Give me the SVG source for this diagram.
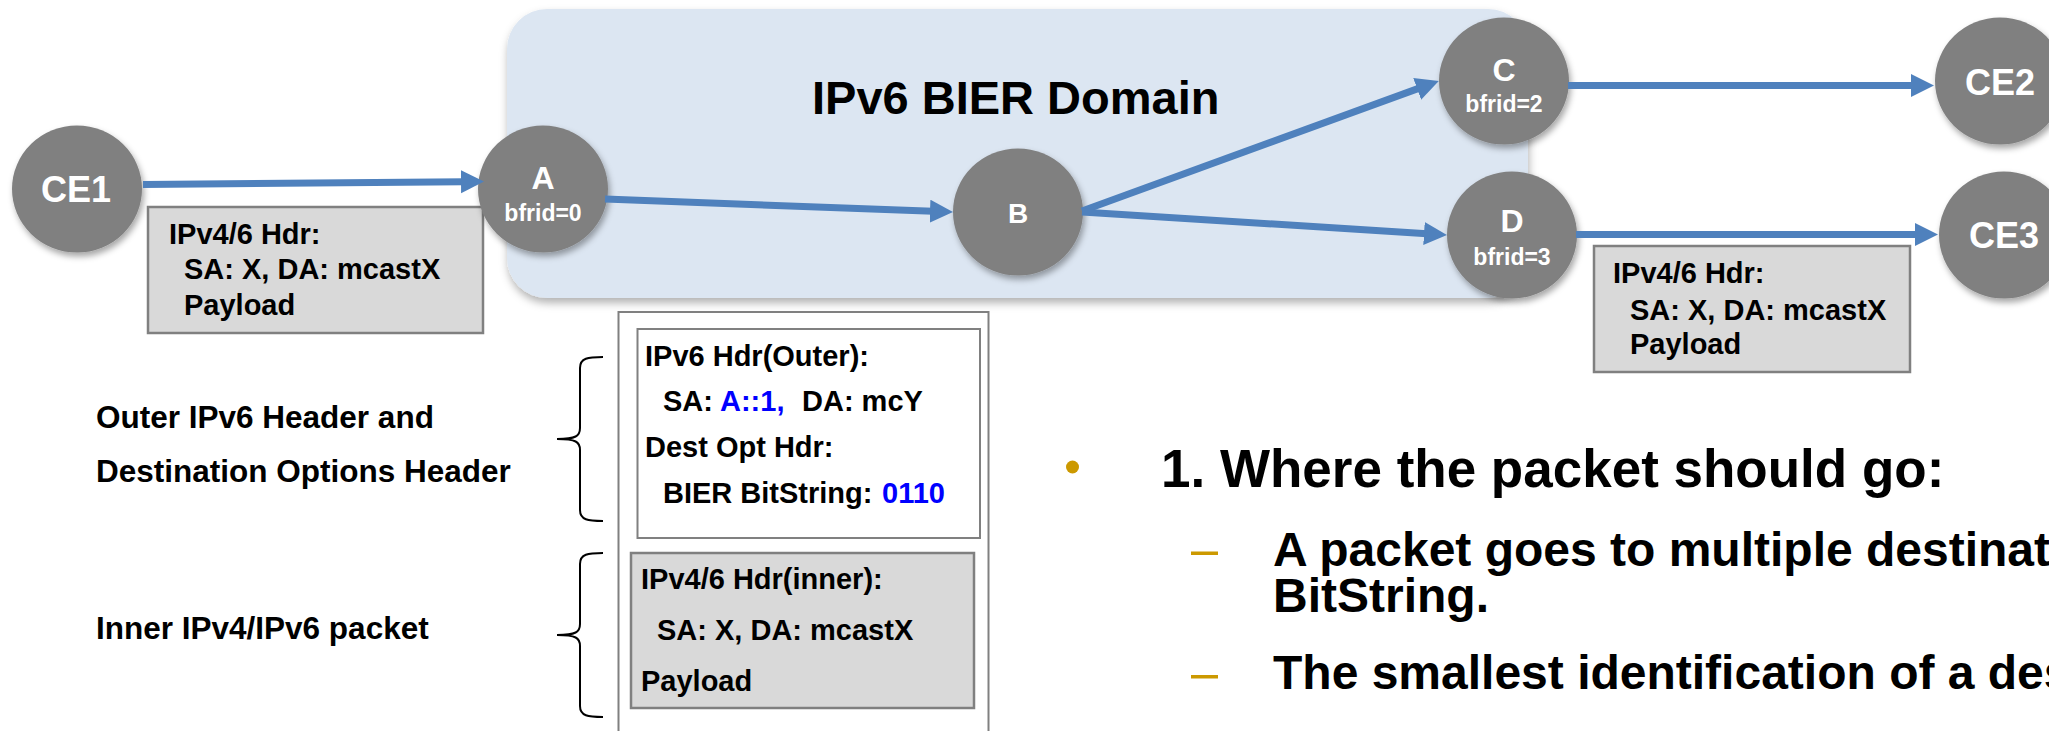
<svg xmlns="http://www.w3.org/2000/svg" width="2049" height="731" viewBox="0 0 2049 731">
  <defs>
    <filter id="shadow" x="-20%" y="-20%" width="140%" height="150%">
      <feDropShadow dx="2" dy="4" stdDeviation="3" flood-color="#000" flood-opacity="0.35"/>
    </filter>
    <filter id="boxShadow" x="-5%" y="-10%" width="110%" height="125%">
      <feDropShadow dx="1" dy="5" stdDeviation="4" flood-color="#000" flood-opacity="0.3"/>
    </filter>
    <marker id="arrow" markerUnits="userSpaceOnUse" markerWidth="24" markerHeight="24" refX="3" refY="11.5" orient="auto">
      <path d="M0,0 L23,11.5 L0,23 Z" fill="#4f81bd"/>
    </marker>
  </defs>
  <style>
    text { font-family: "Liberation Sans", Arial, sans-serif; font-weight: bold; }
    .node { fill: #808080; filter: url(#shadow); }
    .nlabel { fill: #ffffff; text-anchor: middle; }
    .big { font-size: 36px; }
    .mid { font-size: 32px; }
    .small { font-size: 23px; }
    .link { stroke: #4f81bd; stroke-width: 7; fill: none; marker-end: url(#arrow); }
    .pkt { fill: #d9d9d9; stroke: #808080; stroke-width: 2.5; }
    .hdr { fill: #ffffff; stroke: #808080; stroke-width: 2; }
    .t29 { font-size: 29px; fill: #000; }
    .t31 { font-size: 31.5px; fill: #000; }
    .blue { fill: #0000ff; }
    .brace { fill: none; stroke: #000; stroke-width: 2; }
    .gold { fill: #cc9900; }
  </style>

  <!-- BIER domain background -->
  <g id="domain">
    <rect x="507" y="9" width="1021" height="289" rx="40" ry="40" fill="#dce6f2" filter="url(#boxShadow)"/>
    <text x="812" y="114" font-size="47" fill="#000">IPv6 BIER Domain</text>
  </g>

  <!-- packet on the ingress link -->
  <g id="pkt-in">
    <rect class="pkt" x="148" y="207" width="335" height="126"/>
    <text class="t29" x="169" y="244">IPv4/6 Hdr:</text>
    <text class="t29" x="184" y="279">SA: X, DA: mcastX</text>
    <text class="t29" x="184" y="315">Payload</text>
  </g>

  <!-- packet on the egress link -->
  <g id="pkt-out">
    <rect class="pkt" x="1594" y="246" width="316" height="126"/>
    <text class="t29" x="1613" y="283">IPv4/6 Hdr:</text>
    <text class="t29" x="1630" y="320">SA: X, DA: mcastX</text>
    <text class="t29" x="1630" y="354">Payload</text>
  </g>

  <!-- encapsulated packet layout -->
  <g id="pkt-bier">
    <rect class="hdr" x="618.5" y="312" width="370" height="440"/>
    <rect class="hdr" x="637.5" y="329" width="342.5" height="209"/>
    <text class="t29" x="645" y="366">IPv6 Hdr(Outer):</text>
    <text class="t29" y="411"><tspan x="663">SA: </tspan><tspan class="blue" x="720">A::1,</tspan><tspan x="802">DA: mcY</tspan></text>
    <text class="t29" x="645" y="457">Dest Opt Hdr:</text>
    <text class="t29" y="503"><tspan x="663">BIER BitString: </tspan><tspan class="blue" x="882">0110</tspan></text>
    <rect class="pkt" x="631" y="553" width="343" height="155"/>
    <text class="t29" x="641" y="589">IPv4/6 Hdr(inner):</text>
    <text class="t29" x="657" y="640">SA: X, DA: mcastX</text>
    <text class="t29" x="641" y="691">Payload</text>
  </g>

  <!-- braces and their captions -->
  <g id="label-outer">
    <path class="brace" d="M603,357 C588,357 580,358 580,368 L580,428 C580,436 576,439 557,439 C576,439 580,442 580,450 L580,510 C580,520 588,521 603,521"/>
    <text class="t31" x="96" y="428">Outer IPv6 Header and</text>
    <text class="t31" x="96" y="482">Destination Options Header</text>
  </g>
  <g id="label-inner">
    <path class="brace" d="M603,553 C588,553 580,554 580,564 L580,624 C580,632 576,635 557,635 C576,635 580,638 580,646 L580,706 C580,716 588,717 603,717"/>
    <text class="t31" x="96" y="639">Inner IPv4/IPv6 packet</text>
  </g>

  <!-- routers -->
  <g id="CE1">
    <ellipse class="node" cx="77" cy="189" rx="65" ry="63.5"/>
    <text class="nlabel big" x="76" y="202">CE1</text>
  </g>
  <g id="A">
    <ellipse class="node" cx="543" cy="189" rx="65" ry="63.5"/>
    <text class="nlabel mid" x="543" y="189">A</text>
    <text class="nlabel small" x="543" y="221">bfrid=0</text>
  </g>
  <g id="B">
    <ellipse class="node" cx="1018" cy="212" rx="65" ry="63.5"/>
    <text class="nlabel" font-size="28" x="1018" y="223">B</text>
  </g>
  <g id="C">
    <ellipse class="node" cx="1504" cy="81" rx="65" ry="63.5"/>
    <text class="nlabel mid" x="1504" y="81">C</text>
    <text class="nlabel small" x="1504" y="112">bfrid=2</text>
  </g>
  <g id="D">
    <ellipse class="node" cx="1512" cy="235" rx="65" ry="63.5"/>
    <text class="nlabel mid" x="1512" y="232">D</text>
    <text class="nlabel small" x="1512" y="265">bfrid=3</text>
  </g>
  <g id="CE2">
    <ellipse class="node" cx="2000" cy="81" rx="65" ry="63.5"/>
    <text class="nlabel big" x="2000" y="95">CE2</text>
  </g>
  <g id="CE3">
    <ellipse class="node" cx="2004" cy="235" rx="65" ry="63.5"/>
    <text class="nlabel big" x="2004" y="248">CE3</text>
  </g>

  <!-- forwarding links -->
  <g id="links">
    <line class="link" x1="143" y1="184.5" x2="464" y2="181.7"/>
    <line class="link" x1="605" y1="199" x2="933" y2="211.3"/>
    <line class="link" x1="1082" y1="211" x2="1420" y2="87.9"/>
    <line class="link" x1="1082" y1="212" x2="1427" y2="233.7"/>
    <line class="link" x1="1568" y1="85.5" x2="1914" y2="85.5"/>
    <line class="link" x1="1576" y1="234.5" x2="1918" y2="234.5"/>
  </g>

  <!-- explanatory bullets -->
  <g id="notes">
    <circle class="gold" cx="1072.5" cy="467" r="6.5"/>
    <text x="1161" y="486.5" font-size="53" fill="#000">1. Where the packet should go:</text>
    <rect class="gold" x="1191" y="551.5" width="27" height="3.5"/>
    <text x="1273" y="566" font-size="48" fill="#000">A packet goes to multiple destinations</text>
    <text x="1273" y="612" font-size="48" fill="#000">BitString.</text>
    <rect class="gold" x="1191" y="675" width="27" height="3.5"/>
    <text x="1273" y="689" font-size="48" fill="#000">The smallest identification of a destination</text>
  </g>
</svg>
